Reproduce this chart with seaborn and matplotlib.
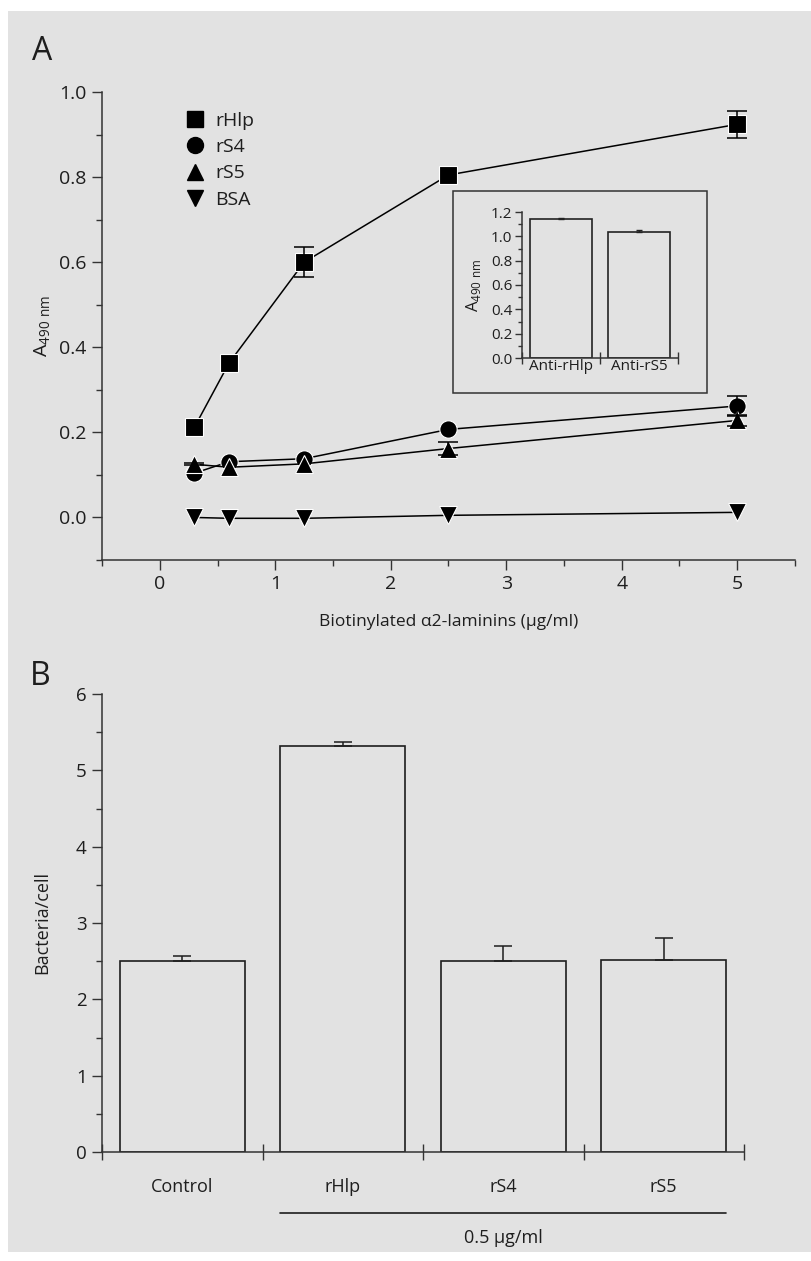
import numpy as np
import pandas as pd
import seaborn as sns
import matplotlib.pyplot as plt
from matplotlib.lines import Line2D
from matplotlib.patches import Rectangle
from matplotlib.ticker import MultipleLocator

# panel A - binding of biotinylated laminins
conc = [0.3, 0.6, 1.25, 2.5, 5.0]
series = ['rHlp', 'rS4', 'rS5', 'BSA']
rhlp = [0.212, 0.363, 0.600, 0.805, 0.924]
rhlp_err = [0, 0, 0.036, 0, 0.031]
rs4 = [0.104, 0.131, 0.138, 0.207, 0.262]
rs4_err = [0, 0, 0, 0, 0.023]
rs5 = [0.125, 0.118, 0.126, 0.162, 0.228]
rs5_err = [0.002, 0, 0, 0.015, 0.012]
bsa = [0.0, -0.002, -0.002, 0.005, 0.012]
markers = {'rHlp': 's', 'rS4': 'o', 'rS5': '^', 'BSA': 'v'}

# inset
antibodies = ['Anti-rHlp', 'Anti-rS5']
inset_vals = [1.145, 1.033]
inset_err = [0.008, 0.022]

# panel B - bacteria per cell
groups = ['Control', 'rHlp', 'rS4', 'rS5']
bact = [2.50, 5.32, 2.50, 2.52]
bact_err = [0.07, 0.05, 0.20, 0.29]

W, H = 812, 1261
BG = '#e2e2e2'
INK = '#1e1e1e'

sns.set_theme(style='ticks')
plt.rcParams['font.family'] = ['Open Sans', 'DejaVu Sans']
plt.rcParams['text.color'] = INK
plt.rcParams['axes.labelcolor'] = INK
plt.rcParams['xtick.color'] = '#333333'
plt.rcParams['ytick.color'] = '#333333'
plt.rcParams['xtick.labelcolor'] = INK
plt.rcParams['ytick.labelcolor'] = INK

fig = plt.figure(figsize=(W / 100, H / 100), dpi=100)
fig.patch.set_facecolor('white')
fig.patches.append(Rectangle((8 / W, 9 / H), 1 - 8 / W, (1252 - 11) / H,
                             transform=fig.transFigure, facecolor=BG,
                             edgecolor='none', zorder=-10))


def px_axes(l, t, r, b):
    ax = fig.add_axes([l / W, 1 - b / H, (r - l) / W, (b - t) / H])
    ax.set_facecolor('none')
    for s in ['top', 'right']:
        ax.spines[s].set_visible(False)
    for s in ['left', 'bottom']:
        ax.spines[s].set_color('#333333')
        ax.spines[s].set_linewidth(1.1)
    return ax


# ---- panel A ----
axA = px_axes(102, 92, 795, 560)
dfA = pd.DataFrame({'conc': conc * 4,
                    'A490': rhlp + rs4 + rs5 + bsa,
                    'protein': np.repeat(series, len(conc))})
sns.lineplot(data=dfA, x='conc', y='A490', hue='protein', style='protein',
             markers=markers, dashes=False, palette={s: 'black' for s in series},
             markersize=12.5, markeredgewidth=0.8, linewidth=1.1, errorbar=None,
             legend=False, ax=axA)
for vals, errs in [(rhlp, rhlp_err), (rs4, rs4_err), (rs5, rs5_err)]:
    idx = [i for i, e in enumerate(errs) if e > 0]
    axA.errorbar([conc[i] for i in idx], [vals[i] for i in idx],
                 yerr=[errs[i] for i in idx], fmt='none', ecolor='black',
                 elinewidth=1.1, capsize=7, capthick=1.1)
axA.set_xlim(-0.5, 5.5)
axA.set_ylim(-0.1, 1.0)
axA.set_xticks(range(6))
axA.xaxis.set_minor_locator(MultipleLocator(0.5))
yt = np.arange(0, 1.01, 0.2)
axA.set_yticks(yt)
axA.set_yticklabels([f'{v:.1f}' for v in yt])
axA.yaxis.set_minor_locator(MultipleLocator(0.1))
axA.tick_params(which='major', direction='out', length=7, width=1.0, labelsize=14, pad=4)
axA.tick_params(which='minor', direction='out', length=4, width=1.0)
axA.set_xlabel('Biotinylated α2-laminins (µg/ml)', fontsize=12.5)
axA.xaxis.set_label_coords(0.5, -0.1325)
axA.xaxis.label.set_va('center')
axA.set_ylabel(r'A$_\mathregular{490\ nm}$', fontsize=14)
axA.yaxis.set_label_coords(-0.085, 0.5)
axA.yaxis.label.set_va('center')

handles = [Line2D([], [], marker=markers[s], color='black', linestyle='none',
                  markersize=11.5) for s in series]
axA.legend(handles, series, loc='upper left', bbox_to_anchor=(0.12, 0.957),
           frameon=False, fontsize=14, borderpad=0, handlelength=1.0,
           handletextpad=0.55, labelspacing=0.42, borderaxespad=0)

fig.text(32 / W, 1 - 60 / H, 'A', fontsize=23, va='baseline')

# ---- inset ----
fig.patches.append(Rectangle((453 / W, 1 - 393 / H), 254 / W, 202 / H,
                             transform=fig.transFigure, facecolor='none',
                             edgecolor='#333333', linewidth=1.1, zorder=1))
axI = px_axes(522, 212, 678, 358)
sns.barplot(x=antibodies, y=inset_vals, fill=False, color='#222222',
            linewidth=1.2, width=0.79, errorbar=None, ax=axI)
axI.errorbar(np.arange(len(antibodies)), inset_vals,
             yerr=[np.zeros(len(inset_err)), inset_err], fmt='none',
             ecolor='#222222', elinewidth=1.0, capsize=2.5, capthick=1.0)
axI.set_xlim(-0.5, len(antibodies) - 0.5)
axI.set_ylim(0, 1.2)
yi = np.arange(0, 1.21, 0.2)
axI.set_yticks(yi)
axI.set_yticklabels([f'{v:.1f}' for v in yi])
axI.yaxis.set_minor_locator(MultipleLocator(0.1))
axI.set_xticks(np.arange(-0.5, len(antibodies), 1), minor=True)
axI.tick_params(axis='x', which='major', length=0, labelsize=11, pad=1)
axI.tick_params(axis='x', which='minor', direction='inout', length=8, width=1.0)
axI.tick_params(axis='y', which='major', direction='out', length=5, width=1.0,
                labelsize=11, pad=2)
axI.tick_params(axis='y', which='minor', direction='out', length=3, width=1.0)
axI.set_ylabel(r'A$_\mathregular{490\ nm}$', fontsize=12)
axI.yaxis.set_label_coords(-0.314, 0.5)
axI.yaxis.label.set_va('center')
axI.set_xlabel('')

# ---- panel B ----
axB = px_axes(102, 694, 744, 1152)
w = 0.78
sns.barplot(x=groups, y=bact, fill=False, color='#1e1e1e', linewidth=1.2,
            width=w, errorbar=None, ax=axB)
axB.errorbar(np.arange(len(groups)), bact,
             yerr=[np.zeros(len(bact_err)), bact_err], fmt='none',
             ecolor='#1e1e1e', elinewidth=1.1, capsize=6.5, capthick=1.1)
axB.set_xlim(-0.5, len(groups) - 0.5)
axB.set_ylim(0, 6)
axB.set_yticks(range(7))
axB.yaxis.set_minor_locator(MultipleLocator(0.5))
axB.set_xticks(np.arange(-0.5, len(groups), 1), minor=True)
axB.tick_params(axis='x', which='major', length=0, labelsize=13, pad=19)
axB.tick_params(axis='x', which='minor', direction='inout', length=12, width=1.0)
axB.tick_params(axis='y', which='major', direction='out', length=7, width=1.0,
                labelsize=13.5, pad=4)
axB.tick_params(axis='y', which='minor', direction='out', length=4, width=1.0)
axB.set_ylabel('Bacteria/cell', fontsize=13)
axB.yaxis.set_label_coords(-0.093, 0.5)
axB.yaxis.label.set_va('center')
axB.set_xlabel('')

trans = axB.get_xaxis_transform()
axB.plot([1 - w / 2, 3 + w / 2], [-0.1325, -0.1325], color='#1e1e1e',
         linewidth=1.2, transform=trans, clip_on=False)
axB.text(2.0, -0.188, '0.5 µg/ml', transform=trans, ha='center', va='center',
         fontsize=13)

fig.text(30 / W, 1 - 685 / H, 'B', fontsize=23, va='baseline')

fig.savefig('out.png', dpi=100, facecolor=fig.get_facecolor())
